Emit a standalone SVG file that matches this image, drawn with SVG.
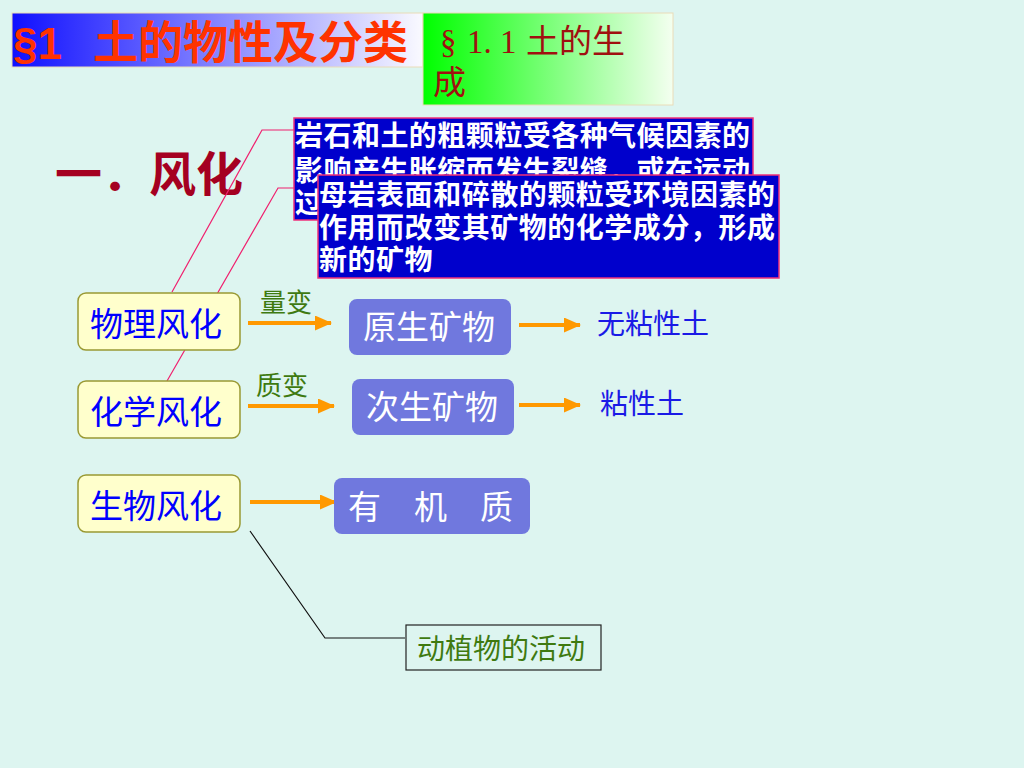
<svg xmlns="http://www.w3.org/2000/svg" width="1024" height="768" viewBox="0 0 1024 768">
<defs>
<linearGradient id="gBlue" x1="0" y1="0" x2="1" y2="0">
<stop offset="0" stop-color="#1010FF"/>
<stop offset="1" stop-color="#FAFAFF"/>
</linearGradient>
<linearGradient id="gGreen" x1="0" y1="0" x2="1" y2="0">
<stop offset="0" stop-color="#00FF00"/>
<stop offset="1" stop-color="#F4FFF0"/>
</linearGradient>
<marker id="arr" markerUnits="userSpaceOnUse" markerWidth="17" markerHeight="15" refX="16" refY="7.5" orient="auto">
<path d="M0,0 L17,7.5 L0,15 Z" fill="#FF9900"/>
</marker>
<style>
text{font-family:"Noto Sans CJK SC","Noto Sans CJK JP",sans-serif}
.yb{fill:#FFFFCC;stroke:#999933;stroke-width:1.5}
.mb{fill:#7078DE}
.db{fill:#0000CC;stroke:#F0307A;stroke-width:1.5}
.wt{fill:#FFFFFF;font-weight:bold;font-size:28px}
.bt{fill:#0000FF;font-size:33px}
.mt{fill:#FFFFFF;font-size:33px}
.st{fill:#1A1AE6;font-size:28px}
.gt{fill:#3F7A10;font-size:26px}
.sf{font-family:"Liberation Serif","Noto Sans CJK SC",serif}
.ar{stroke:#FF9900;stroke-width:4;fill:none;marker-end:url(#arr)}
.pk{stroke:#F0206E;stroke-width:1.2;fill:none}
</style>
</defs>
<rect width="1024" height="768" fill="#DDF5F0"/>

<g id="title1">
<rect x="12" y="13" width="411" height="54" fill="url(#gBlue)" stroke="#EADCB8" stroke-width="1"/>
<text y="59" font-weight="bold" fill="#FF3300"><tspan x="13" font-size="44" style="font-family:'Liberation Sans',sans-serif">§1</tspan><tspan x="93" font-size="45">土的物性及分类</tspan></text>
</g>
<g id="title2">
<rect x="423" y="13" width="250" height="92" fill="url(#gGreen)" stroke="#EADCB8" stroke-width="1"/>
<text y="53" font-size="33" fill="#A01010"><tspan class="sf" x="440">§</tspan><tspan class="sf" x="467">1.</tspan><tspan class="sf" x="500">1</tspan><tspan x="526">土的生</tspan></text>
<text x="433" y="94" font-size="33" fill="#A01010">成</text>
</g>

<g id="heading">
<text x="55" y="191" font-size="47" font-weight="bold" fill="#A50021">一．风化</text>
</g>

<g id="connectors">
<polyline class="pk" points="172,292 262,130 294,130"/>
<polyline class="pk" points="167,381 278,188 318,188"/>
<line class="ar" x1="248" y1="323" x2="331" y2="323"/>
<line class="ar" x1="519" y1="325" x2="580" y2="325"/>
<line class="ar" x1="248" y1="406" x2="334" y2="406"/>
<line class="ar" x1="519" y1="405" x2="580" y2="405"/>
<line class="ar" x1="250" y1="502" x2="336" y2="502"/>
<polyline points="250,531 325,638 405,638" fill="none" stroke="#111" stroke-width="1.2"/>
</g>

<g id="defPhysical">
<rect class="db" x="294" y="118" width="459" height="102"/>
<text class="wt" x="295" y="146" textLength="455" lengthAdjust="spacing">岩石和土的粗颗粒受各种气候因素的</text>
<text class="wt" x="295" y="181" textLength="455" lengthAdjust="spacing">影响产生胀缩而发生裂缝，或在运动</text>
<text class="wt" x="295" y="213">过</text>
</g>
<g id="defChemical">
<rect class="db" x="318" y="175" width="461" height="103"/>
<text class="wt" x="319" y="205" textLength="456" lengthAdjust="spacing">母岩表面和碎散的颗粒受环境因素的</text>
<text class="wt" x="319" y="238" textLength="456" lengthAdjust="spacing">作用而改变其矿物的化学成分，形成</text>
<text class="wt" x="319" y="270" letter-spacing="0.5">新的矿物</text>
</g>

<g id="physical">
<rect class="yb" x="78" y="293" width="162" height="57" rx="8"/>
<text class="bt" x="90" y="336">物理风化</text>
</g>
<g id="chemical">
<rect class="yb" x="78" y="381" width="162" height="57" rx="8"/>
<text class="bt" x="90" y="424">化学风化</text>
</g>
<g id="biological">
<rect class="yb" x="78" y="475" width="162" height="57" rx="8"/>
<text class="bt" x="90" y="518">生物风化</text>
</g>

<g id="label-quant"><text class="gt" x="260" y="312">量变</text></g>
<g id="label-qual"><text class="gt" x="256" y="395">质变</text></g>

<g id="primary">
<rect class="mb" x="349" y="299" width="162" height="56" rx="8"/>
<text class="mt" x="363" y="339">原生矿物</text>
</g>
<g id="secondary">
<rect class="mb" x="352" y="379" width="162" height="56" rx="8"/>
<text class="mt" x="366" y="419">次生矿物</text>
</g>
<g id="organic">
<rect class="mb" x="334" y="478" width="196" height="56" rx="8"/>
<text class="mt" x="348" y="519">有　机　质</text>
</g>

<g id="nonclay"><text class="st" x="597" y="334">无粘性土</text></g>
<g id="clay"><text class="st" x="600" y="414">粘性土</text></g>

<g id="activity">
<rect x="406" y="625" width="195" height="45" fill="none" stroke="#222" stroke-width="1.2"/>
<text class="gt" x="417" y="659" style="font-size:28px">动植物的活动</text>
</g>
</svg>
